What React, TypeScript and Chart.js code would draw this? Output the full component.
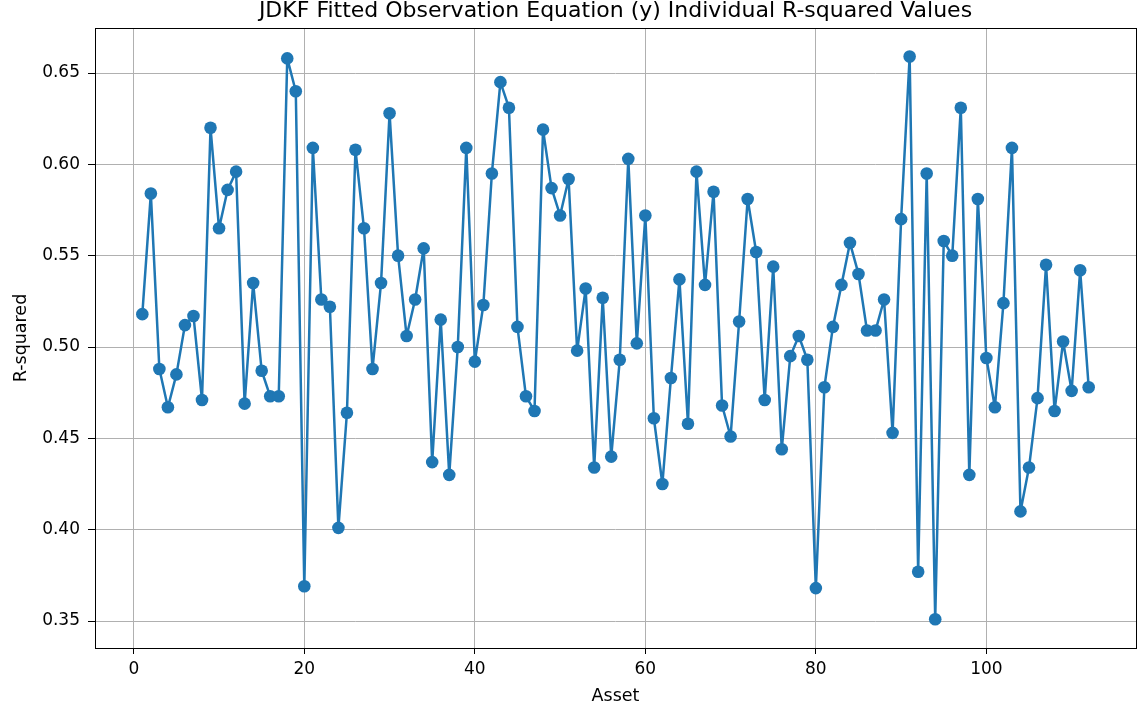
import React, { useEffect, useRef } from "react";
import { Chart, registerables } from "chart.js";

Chart.register(...registerables);

const TITLE = "JDKF Fitted Observation Equation (y) Individual R-squared Values";
const X_LABEL = "Asset";
const Y_LABEL = "R-squared";

const assets = [
  1, 2, 3, 4, 5, 6, 7, 8, 9, 10, 11, 12, 13, 14, 15, 16, 17, 18, 19, 20,
  21, 22, 23, 24, 25, 26, 27, 28, 29, 30, 31, 32, 33, 34, 35, 36, 37, 38, 39, 40,
  41, 42, 43, 44, 45, 46, 47, 48, 49, 50, 51, 52, 53, 54, 55, 56, 57, 58, 59, 60,
  61, 62, 63, 64, 65, 66, 67, 68, 69, 70, 71, 72, 73, 74, 75, 76, 77, 78, 79, 80,
  81, 82, 83, 84, 85, 86, 87, 88, 89, 90, 91, 92, 93, 94, 95, 96, 97, 98, 99, 100,
  101, 102, 103, 104, 105, 106, 107, 108, 109, 110, 111, 112,
];

const rSquared = [
  0.518, 0.584, 0.488, 0.467, 0.485, 0.512, 0.517, 0.471, 0.620, 0.565,
  0.586, 0.596, 0.469, 0.535, 0.487, 0.473, 0.473, 0.658, 0.640, 0.369,
  0.609, 0.526, 0.522, 0.401, 0.464, 0.608, 0.565, 0.488, 0.535, 0.628,
  0.550, 0.506, 0.526, 0.554, 0.437, 0.515, 0.430, 0.500, 0.609, 0.492,
  0.523, 0.595, 0.645, 0.631, 0.511, 0.473, 0.465, 0.619, 0.587, 0.572,
  0.592, 0.498, 0.532, 0.434, 0.527, 0.440, 0.493, 0.603, 0.502, 0.572,
  0.461, 0.425, 0.483, 0.537, 0.458, 0.596, 0.534, 0.585, 0.468, 0.451,
  0.514, 0.581, 0.552, 0.471, 0.544, 0.444, 0.495, 0.506, 0.493, 0.368,
  0.478, 0.511, 0.534, 0.557, 0.540, 0.509, 0.509, 0.526, 0.453, 0.570,
  0.659, 0.377, 0.595, 0.351, 0.558, 0.550, 0.631, 0.430, 0.581, 0.494,
  0.467, 0.524, 0.609, 0.410, 0.434, 0.472, 0.545, 0.465, 0.503, 0.476,
  0.542, 0.478,
];

const xTicks = [0, 20, 40, 60, 80, 100];
const yTicks = [0.35, 0.4, 0.45, 0.5, 0.55, 0.6, 0.65];

const FONT = "'DejaVu Sans', sans-serif";
const LINE_COLOR = "#1f77b4";

export default function App() {
  const ref = useRef<HTMLCanvasElement | null>(null);

  useEffect(() => {
    const canvas = ref.current;
    if (!canvas) return;

    const framePlugin = {
      id: "frameAndTitle",
      afterDraw(chart: any) {
        const { ctx, chartArea } = chart;
        ctx.save();
        ctx.strokeStyle = "#000";
        ctx.lineWidth = 1;
        ctx.strokeRect(
          Math.round(chartArea.left) + 0.5,
          Math.round(chartArea.top) + 0.5,
          Math.round(chartArea.right - chartArea.left),
          Math.round(chartArea.bottom - chartArea.top)
        );
        ctx.fillStyle = "#000";
        ctx.font = `22px ${FONT}`;
        ctx.textAlign = "center";
        ctx.textBaseline = "alphabetic";
        ctx.fillText(TITLE, (chartArea.left + chartArea.right) / 2, 16.5);
        ctx.restore();
      },
    };

    const chart = new Chart(canvas, {
      type: "line",
      data: {
        datasets: [
          {
            data: assets.map((a, i) => ({ x: a, y: rSquared[i] })),
            borderColor: LINE_COLOR,
            backgroundColor: LINE_COLOR,
            borderWidth: 2.5,
            borderJoinStyle: "round",
            borderCapStyle: "round",
            pointRadius: 6.3,
            pointBorderWidth: 0,
            pointBackgroundColor: LINE_COLOR,
            pointBorderColor: LINE_COLOR,
            tension: 0,
            fill: false,
          },
        ],
      },
      options: {
        responsive: false,
        animation: false,
        events: [],
        layout: { padding: { left: 0, right: 12, top: 28, bottom: 0 } },
        plugins: {
          legend: { display: false },
          title: { display: false },
          tooltip: { enabled: false },
        },
        scales: {
          x: {
            type: "linear",
            min: -4.55,
            max: 117.55,
            afterFit(scale: any) {
              scale.height = 71;
            },
            afterBuildTicks(scale: any) {
              scale.ticks = xTicks.map((v) => ({ value: v }));
            },
            border: { display: false },
            grid: {
              color: "#b0b0b0",
              lineWidth: 1,
              drawTicks: true,
              tickLength: 6,
              tickColor: "#000",
            },
            ticks: {
              color: "#000",
              padding: 5,
              maxRotation: 0,
              autoSkip: false,
              font: { family: FONT, size: 17 },
              callback: (v: any) => String(v),
            },
            title: {
              display: true,
              text: X_LABEL,
              color: "#000",
              font: { family: FONT, size: 17.5 },
              padding: { top: 0, bottom: 12.5 },
            },
          },
          y: {
            type: "linear",
            min: 0.33522,
            max: 0.67464,
            afterFit(scale: any) {
              scale.width = 95;
            },
            afterBuildTicks(scale: any) {
              scale.ticks = yTicks.map((v) => ({ value: v }));
            },
            border: { display: false },
            grid: {
              color: "#b0b0b0",
              lineWidth: 1,
              drawTicks: true,
              tickLength: 7,
              tickColor: "#000",
            },
            ticks: {
              color: "#000",
              padding: 8,
              autoSkip: false,
              font: { family: FONT, size: 17 },
              callback: (v: any) => Number(v).toFixed(2),
            },
            title: {
              display: true,
              text: Y_LABEL,
              color: "#000",
              font: { family: FONT, size: 17.5 },
              padding: { top: 11, bottom: 0 },
            },
          },
        },
      },
      plugins: [framePlugin],
    });

    return () => chart.destroy();
  }, []);

  return (
    <canvas
      ref={ref}
      width={1148}
      height={719}
      style={{ position: "absolute", left: 0, top: 0, display: "block" }}
    />
  );
}
